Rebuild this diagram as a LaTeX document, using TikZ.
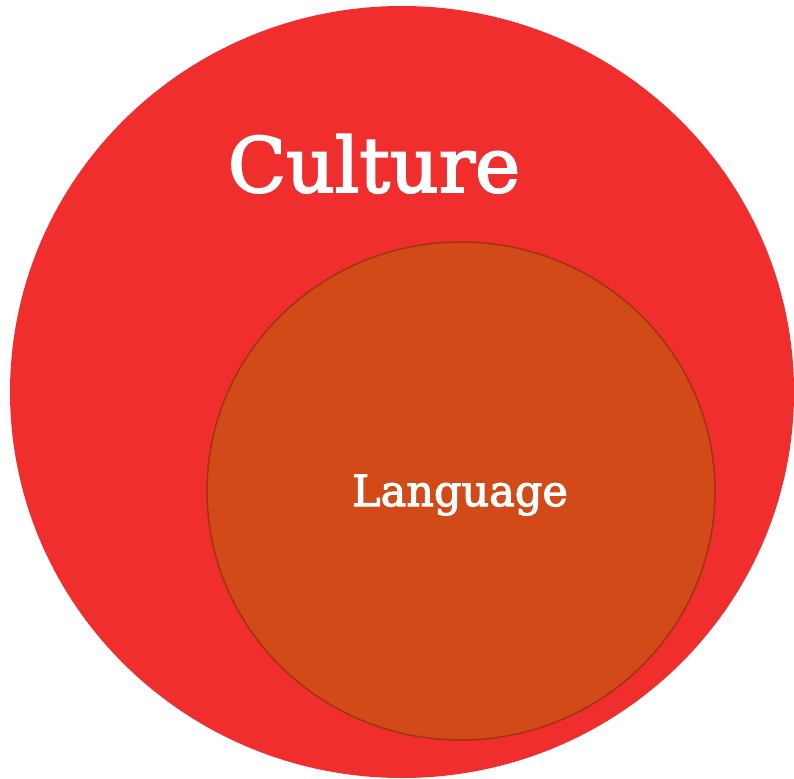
\documentclass[tikz,border=0pt]{standalone}
\usepackage{fontspec}
\newfontfamily\labelfont[FakeBold=2.6]{DejaVu Serif}
\definecolor{culturered}{RGB}{240,46,46}
\definecolor{langorange}{RGB}{210,74,23}
\definecolor{langrim}{RGB}{160,52,16}
\tikzset{label/.style={text=white,inner sep=0pt,anchor=base}}
\begin{document}
\begin{tikzpicture}[x=1pt,y=-1pt]
    \useasboundingbox (0,0) rectangle (794,778);
    \fill[culturered] (402,392) ellipse (392 and 386);
    \draw[fill=langorange,draw=langrim,line width=1.5pt] (461,491) ellipse (254 and 249);
    \node[label,font=\labelfont\fontsize{76}{76}\selectfont] (culture) at (374,192) {Culture};
    \node[label,font=\labelfont\fontsize{43}{43}\selectfont] (language) at (460,506) {Language};
  \end{tikzpicture}
\end{document}
